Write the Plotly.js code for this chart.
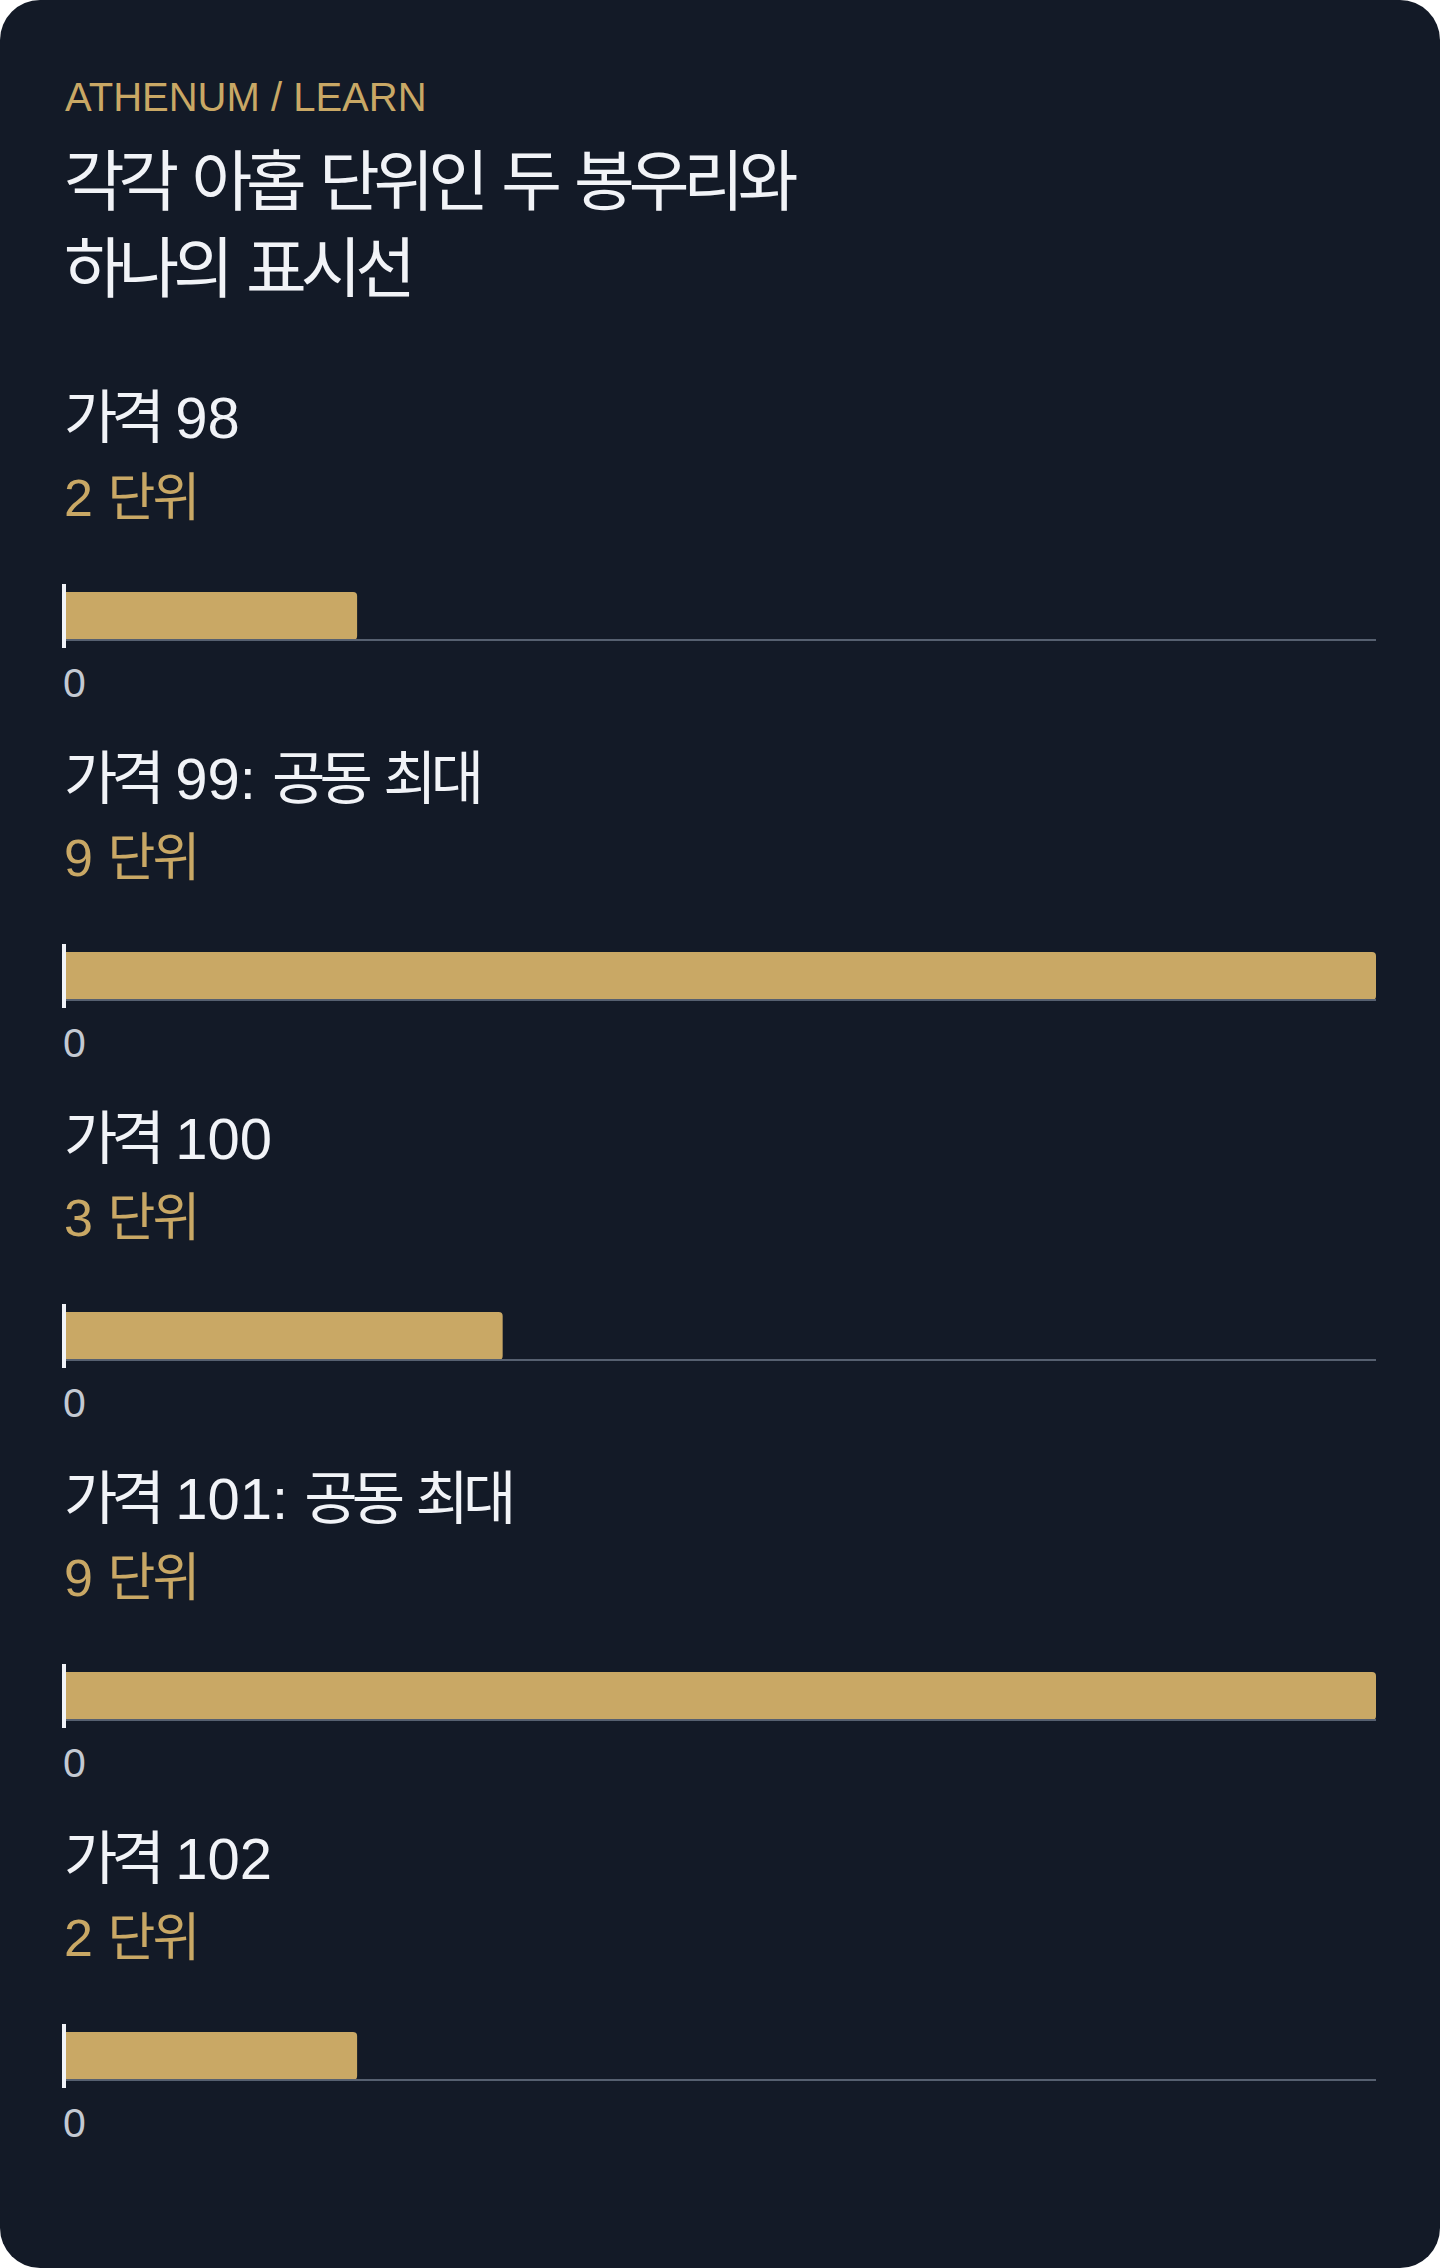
<!DOCTYPE html>
<html>
<head>
<meta charset="utf-8">
<script src="https://cdn.plot.ly/plotly-3.0.1.min.js"></script>
<style>
  html, body { margin: 0; padding: 0; background: #ffffff; }
  #card { width: 1440px; height: 2268px; border-radius: 40px; overflow: hidden; background: #131a27; }
  #chart { width: 1440px; height: 2268px; }
</style>
</head>
<body>
<div id="card"><div id="chart"></div></div>
<script>
// ---- data ----
const kicker = 'ATHENUM / LEARN';
const titleLines = ['각각 아홉 단위인 두 봉우리와', '하나의 표시선'];
const priceLabels = ['가격 98', '가격 99: 공동 최대', '가격 100', '가격 101: 공동 최대', '가격 102'];
const units = [2, 9, 3, 9, 2];
const unitSuffix = ' 단위';
const xMax = 9;
const tickVals = [0];
const tickText = ['0'];

// ---- style ----
const W = 1440, H = 2268;
const FONT = 'Liberation Sans, Arial, "Noto Sans CJK KR", sans-serif';
const GOLD = '#c9a865';
const WHITE = '#f1f3f7';
const TICK = '#c3c9d2';
const BASE = '#566070';
const panelStep = 360;
const domTop0 = 584, domBot0 = 648;
const plotL = 66, plotR = 1376;

const px = v => v / W;
const py = v => 1 - v / H;
// narrower Hangul runs (the reference's Korean face is more condensed)
const hangul = (s, ls) => s.replace(/([\uAC00-\uD7A3]+)/g, '<span style="letter-spacing:' + ls + 'em">$1</span>');

const data = [];
const layout = {
  width: W, height: H,
  margin: {l: 0, r: 0, t: 0, b: 0},
  paper_bgcolor: 'rgba(0,0,0,0)',
  plot_bgcolor: 'rgba(0,0,0,0)',
  showlegend: false,
  font: {family: FONT, color: WHITE},
  annotations: [],
  shapes: []
};

layout.annotations.push({
  xref: 'paper', yref: 'paper', x: px(63), y: py(97), xanchor: 'left', yanchor: 'middle',
  text: kicker, showarrow: false, font: {family: FONT, size: 40, color: GOLD}
});
titleLines.forEach((t, j) => {
  layout.annotations.push({
    xref: 'paper', yref: 'paper', x: px(62), y: py(182 + j * 87), xanchor: 'left', yanchor: 'middle',
    text: hangul(t, -0.093), showarrow: false, font: {family: FONT, size: 66, color: WHITE}
  });
});

units.forEach((u, i) => {
  const k = i + 1;
  const xa = 'xaxis' + (k === 1 ? '' : k);
  const ya = 'yaxis' + (k === 1 ? '' : k);
  const xr = 'x' + (k === 1 ? '' : k);
  const yr = 'y' + (k === 1 ? '' : k);
  const off = i * panelStep;

  data.push({
    type: 'bar', orientation: 'h',
    x: [u], y: [0], width: 0.75,
    xaxis: xr, yaxis: yr,
    marker: {color: GOLD, cornerradius: 4, line: {width: 0}},
    hoverinfo: 'skip'
  });

  layout[xa] = {
    domain: [px(plotL), px(plotR)], anchor: yr,
    range: [0, xMax], fixedrange: true,
    showgrid: false, zeroline: false, showline: false,
    tickvals: tickVals, ticktext: tickText, ticks: '',
    ticklabelposition: 'outside right', ticklabelstandoff: 7, ticklabelshift: -3,
    tickfont: {family: FONT, size: 41, color: TICK}
  };
  layout[ya] = {
    domain: [py(domBot0 + off), py(domTop0 + off)], anchor: xr,
    range: [-0.5, 0.5], fixedrange: true,
    showgrid: false, zeroline: false, showticklabels: false, ticks: '',
    showline: true, linecolor: WHITE, linewidth: 4
  };

  layout.shapes.push({
    type: 'line', xref: xr, yref: yr, x0: 0, x1: xMax, y0: -0.375, y1: -0.375,
    line: {color: BASE, width: 2}, layer: 'above'
  });

  layout.annotations.push({
    xref: 'paper', yref: 'paper', x: px(62), y: py(418 + off), xanchor: 'left', yanchor: 'middle',
    text: hangul(priceLabels[i], -0.1), showarrow: false, font: {family: FONT, size: 58, color: WHITE}
  });
  layout.annotations.push({
    xref: 'paper', yref: 'paper', x: px(62), y: py(498 + off), xanchor: 'left', yanchor: 'middle',
    text: hangul(u + unitSuffix, -0.05), showarrow: false, font: {family: FONT, size: 52, color: GOLD}
  });
});

Plotly.newPlot('chart', data, layout, {displayModeBar: false, staticPlot: true});
</script>
</body>
</html>
